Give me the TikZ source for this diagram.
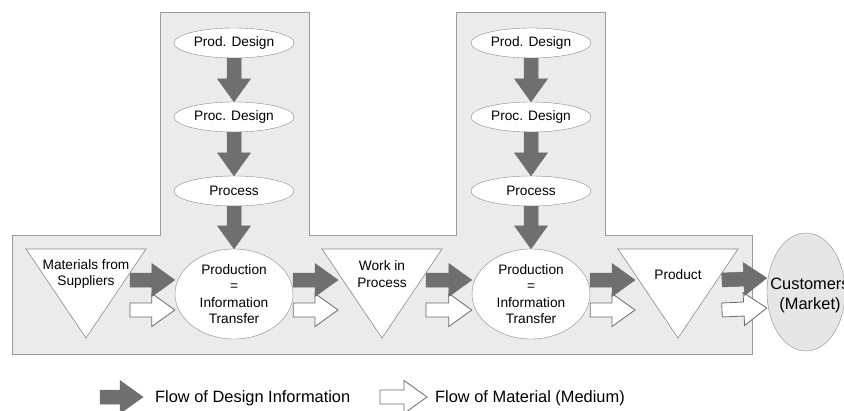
\documentclass[tikz,border=0pt]{standalone}
\usepackage{fontspec}
\setmainfont{Liberation Sans}
\usepackage{tikz}
\usetikzlibrary{calc,shapes.geometric}
\definecolor{infogray}{HTML}{6F6F6F}
\definecolor{matline}{HTML}{6A6A6A}
\definecolor{boxfill}{HTML}{EBEBEB}
\definecolor{boxline}{HTML}{9A9A9A}
\definecolor{ovalline}{HTML}{8A8A8A}
\definecolor{custfill}{HTML}{E6E6E6}
\newcommand\flowpair[2]{%
   \draw[matl] ([yshift=-16pt]#1) to ([yshift=-16pt]#2);
   \draw[info] ([yshift=14pt]#1) to ([yshift=14pt]#2);}

\begin{document}
\begin{tikzpicture}[x=1pt,y=-1pt,
   lbl/.style={font=\fontsize{13.7}{16.3}\selectfont,align=center,inner sep=0pt},
   keytxt/.style={font=\fontsize{16.4}{20}\selectfont,inner sep=0pt,anchor=west},
   oval/.style={ellipse,draw=ovalline,fill=white,minimum width=120pt,minimum height=30pt,lbl},
   blockarrow/.style={to path={
      ($(\tikztostart)!7pt!90:(\tikztotarget)$)
      -- ($($(\tikztotarget)!23pt!(\tikztostart)$)!7pt!90:(\tikztotarget)$)
      -- ($($(\tikztotarget)!23pt!(\tikztostart)$)!16.5pt!90:(\tikztotarget)$)
      -- (\tikztotarget)
      -- ($($(\tikztotarget)!23pt!(\tikztostart)$)!16.5pt!-90:(\tikztotarget)$)
      -- ($($(\tikztotarget)!23pt!(\tikztostart)$)!7pt!-90:(\tikztotarget)$)
      -- ($(\tikztostart)!7pt!-90:(\tikztotarget)$) -- cycle}},
   info/.style={blockarrow,fill=infogray,draw=infogray,line width=0.5pt},
   matl/.style={blockarrow,fill=white,draw=matline,line width=0.8pt}]
   \useasboundingbox (0,0) rectangle (844,410);

   \draw[draw=boxline,fill=boxfill,line width=0.8pt] (12,235) -- (160,235) -- (160,12) -- (309,12)
      -- (309,235) -- (456,235) -- (456,12) -- (605,12) -- (605,235) -- (752,235) -- (752,354)
      -- (12,354) -- cycle;

   \foreach \x/\n in {234/1,531/2}{
      \node[oval] (pd\n) at (\x,43) {Prod. Design};
      \node[oval] (pc\n) at (\x,117) {Proc. Design};
      \node[oval] (ps\n) at (\x,191) {Process};
      \node[oval,minimum width=118pt,minimum height=90pt] (pr\n) at (\x,294)
         {Production\\=\\Information\\Transfer};
      \draw[info] (pd\n.south) to (pc\n.north);
      \draw[info] (pc\n.south) to (ps\n.north);
      \draw[info] (ps\n.south) to (pr\n.north);
   }

   \foreach \x in {86,382,678}
      \draw[draw=ovalline,fill=white,line width=0.6pt] (\x-60,249) -- (\x+60,249) -- (\x,338) -- cycle;
   \node[lbl] (mat) at (86,274) {Materials from\\Suppliers};
   \node[lbl] (wip) at (382,274) {Work in\\Process};
   \node[lbl] (prd) at (678,275) {Product};

   \node[ellipse,draw=ovalline,fill=custfill,minimum width=78pt,minimum height=118pt] (cus) at (806,292) {};
   \node[align=center,inner sep=0pt,font=\fontsize{16.4}{20}\selectfont] (custxt) at ([xshift=4pt,yshift=-3pt]cus.center)
      {Customers\\(Market)};

   \coordinate (a1) at (130,294);
   \coordinate (b2) at (338,294);
   \coordinate (a3) at (426,294);
   \coordinate (b4) at (635,294);
   \coordinate (a5) at (722,294);
   \flowpair{a1}{pr1.west}
   \flowpair{pr1.east}{b2}
   \flowpair{a3}{pr2.west}
   \flowpair{pr2.east}{b4}
   \flowpair{a5}{cus.west}

   \coordinate (k1) at (100,397);
   \coordinate (k2) at (143,397);
   \coordinate (k3) at (380,397);
   \coordinate (k4) at (427,397);
   \draw[info] (k1) to (k2);
   \draw[matl] (k3) to (k4);
   \node[keytxt] (kinfo) at (155,398) {Flow of Design Information};
   \node[keytxt] (kmatl) at (435,398) {Flow of Material (Medium)};
\end{tikzpicture}
\end{document}
